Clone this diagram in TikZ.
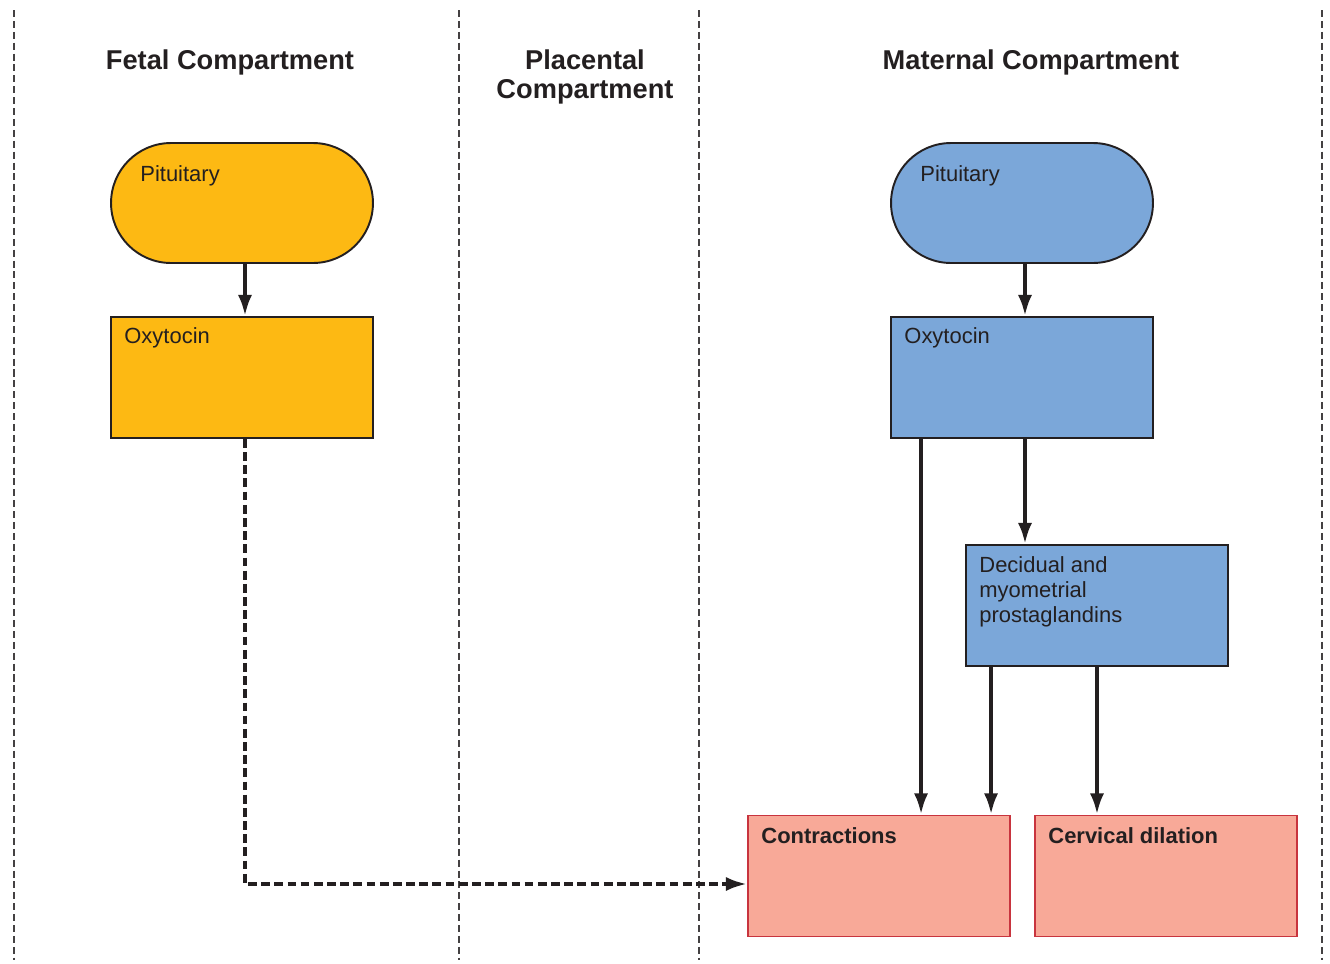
\documentclass[tikz,border=0pt]{standalone}
\usepackage{fontspec}
\setmainfont{Liberation Sans}
\usetikzlibrary{positioning, arrows.meta}

\definecolor{fetalfill}{HTML}{FDB913}
\definecolor{maternalfill}{HTML}{7BA7D9}
\definecolor{effectfill}{HTML}{F8A998}
\definecolor{effectdraw}{HTML}{C8343E}
\definecolor{inkdark}{HTML}{231F20}

\begin{document}
\begin{tikzpicture}[
    x=0.02cm, y=-0.02cm,
    title/.style={
        font=\fontsize{15.5}{17}\selectfont\bfseries,
        text=inkdark, align=center, inner sep=0pt},
    boxlabel/.style={
        font=\fontsize{12.5}{14.2}\selectfont,
        text=inkdark, align=left, inner sep=0pt, anchor=north west},
    gland/.style={
        rectangle, rounded corners=1.2cm, draw=inkdark, line width=1.1pt,
        minimum width=5.24cm, minimum height=2.4cm},
    hormone/.style={
        rectangle, draw=inkdark, line width=1.1pt,
        minimum width=5.24cm, minimum height=2.42cm},
    effect/.style={
        rectangle, draw=effectdraw, fill=effectfill, line width=1.1pt,
        minimum width=5.24cm, minimum height=2.42cm},
    divider/.style={inkdark!85, line width=1.1pt, dash pattern=on 4pt off 2.2pt},
    arr/.style={-{Latex[length=12pt, width=8pt]}, line width=2.2pt, inkdark},
    darr/.style={arr, dash pattern=on 5pt off 2.5pt}
]
\useasboundingbox (0,0) rectangle (1330,964);

%% ── Compartment dividers ─────────────────────────────────────────
\draw[divider] (14,10)   -- (14,960);
\draw[divider] (459,10)  -- (459,960);
\draw[divider] (699,10)  -- (699,960);
\draw[divider] (1322,10) -- (1322,960);

%% ── Compartment titles ───────────────────────────────────────────
\node[title] (t_fetal) at (230,62)  {Fetal Compartment};
\node[title] (t_plac)  at (585,77)  {Placental\\Compartment};
\node[title] (t_mat)   at (1031,62) {Maternal Compartment};

%% ── Fetal compartment ────────────────────────────────────────────
\node[gland, fill=fetalfill] (fet_pit) at (242,203)
    [label={[boxlabel, xshift=0.6cm, yshift=-0.46cm]north west:Pituitary}] {};
\node[hormone, fill=fetalfill] (fet_oxy) at (242,377.5)
    [label={[boxlabel, xshift=0.28cm, yshift=-0.22cm]north west:Oxytocin}] {};

%% ── Maternal compartment ─────────────────────────────────────────
\node[gland, fill=maternalfill] (mat_pit) at (1022,203)
    [label={[boxlabel, xshift=0.6cm, yshift=-0.46cm]north west:Pituitary}] {};
\node[hormone, fill=maternalfill] (mat_oxy) at (1022,377.5)
    [label={[boxlabel, xshift=0.28cm, yshift=-0.22cm]north west:Oxytocin}] {};
\node[hormone, fill=maternalfill] (prost) at (1097,605.5)
    [label={[boxlabel, xshift=0.28cm, yshift=-0.24cm]north west:Decidual and\\myometrial\\prostaglandins}] {};

%% ── Effects ──────────────────────────────────────────────────────
\node[effect] (contr) at (879,876)
    [label={[boxlabel, font=\fontsize{12.5}{14.2}\selectfont\bfseries, xshift=0.28cm, yshift=-0.26cm]north west:Contractions}] {};
\node[effect] (cerv) at (1166,876)
    [label={[boxlabel, font=\fontsize{12.5}{14.2}\selectfont\bfseries, xshift=0.28cm, yshift=-0.26cm]north west:Cervical dilation}] {};

%% ── Arrows: pituitary → oxytocin ────────────────────────────────
\draw[arr] ([xshift=0.06cm]fet_pit.south) -- ([xshift=0.06cm]fet_oxy.north);
\draw[arr] ([xshift=0.06cm]mat_pit.south) -- ([xshift=0.06cm]mat_oxy.north);

%% ── Arrows: maternal oxytocin → prostaglandins, contractions ─────
\draw[arr] ([xshift=0.06cm]mat_oxy.south) -- ([xshift=0.06cm]mat_oxy.south |- prost.north);
\draw[arr] ([xshift=0.62cm]mat_oxy.south west) -- ([xshift=0.62cm]mat_oxy.south west |- contr.north);

%% ── Arrows: prostaglandins → contractions, dilation ─────────────
\draw[arr] ([xshift=0.52cm]prost.south west) -- ([xshift=0.52cm]prost.south west |- contr.north);
\draw[arr] (prost.south) -- (prost.south |- cerv.north);

%% ── Fetal oxytocin → contractions (dashed) ──────────────────────
\draw[darr] ([xshift=0.06cm]fet_oxy.south) |- ([yshift=-0.16cm]contr.west);

\end{tikzpicture}
\end{document}
